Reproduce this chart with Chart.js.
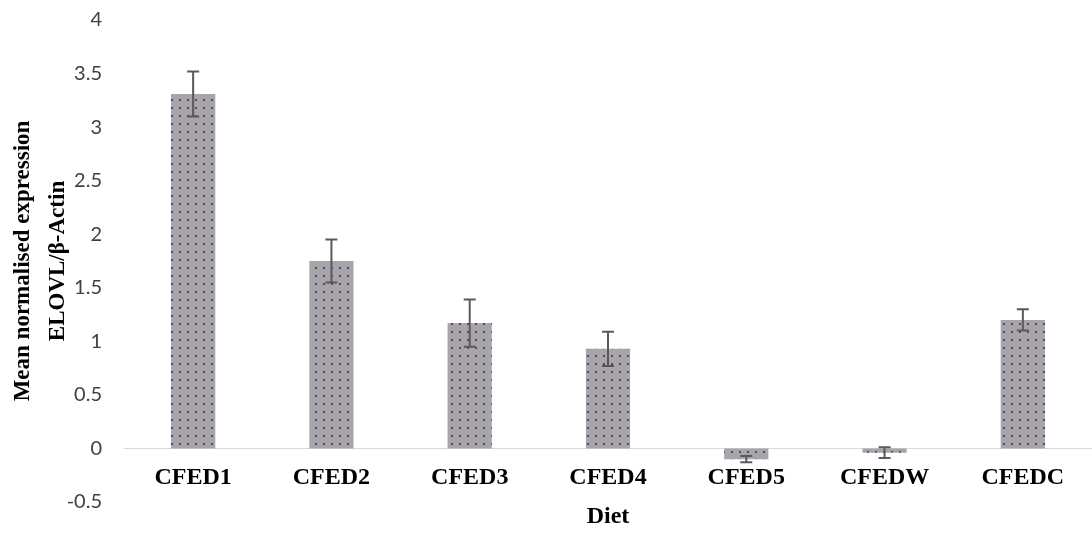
<!DOCTYPE html>
<html>
<head>
<meta charset="utf-8">
<script src="https://cdn.jsdelivr.net/npm/chart.js@4.4.1/dist/chart.umd.min.js"></script>
<style>
  body { margin: 0; background: #fff; }
  .chart { width: 1092px; height: 534px; }
</style>
</head>
<body>
<div class="chart"><canvas id="myChart"></canvas></div>
<script>
const diets = ['CFED1', 'CFED2', 'CFED3', 'CFED4', 'CFED5', 'CFEDW', 'CFEDC'];
const meanExpression = [3.31, 1.75, 1.17, 0.93, -0.10, -0.04, 1.20];
const errorValues = [0.21, 0.20, 0.22, 0.16, 0.03, 0.05, 0.10];
const yTicks = [-0.5, 0, 0.5, 1, 1.5, 2, 2.5, 3, 3.5, 4];

const serif = '"Liberation Serif", "Times New Roman", serif';

// grey bar with purple dots
const makeDots = () => {
    const tile = document.createElement('canvas');
    tile.width = 8;
    tile.height = 8;
    const c = tile.getContext('2d');
    c.fillStyle = '#a6a6a6';
    c.fillRect(0, 0, 8, 8);
    c.fillStyle = '#7030a0';
    c.fillRect(3, 3, 2, 2);
    return c.createPattern(tile, 'repeat');
}

const errorBars = {
    id: 'errorBars',
    afterDatasetsDraw: (chart) => {
        const ctx = chart.ctx;
        const xs = chart.scales.x;
        const ys = chart.scales.y;
        ctx.save();
        ctx.strokeStyle = '#595959';
        ctx.lineWidth = 2;
        for (let i = 0; i < diets.length; i++) {
            const x = xs.getPixelForValue(i);
            const top = ys.getPixelForValue(meanExpression[i] + errorValues[i]);
            const bot = ys.getPixelForValue(meanExpression[i] - errorValues[i]);
            ctx.beginPath();
            ctx.moveTo(x, top);
            ctx.lineTo(x, bot);
            ctx.moveTo(x - 6, top);
            ctx.lineTo(x + 6, top);
            ctx.moveTo(x - 6, bot);
            ctx.lineTo(x + 6, bot);
            ctx.stroke();
        }
        ctx.restore();
    }
};

const ctx = document.getElementById('myChart');
const chart = new Chart(ctx, {
    type: 'bar',
    data: {
        labels: diets,
        datasets: [{
            data: meanExpression,
            backgroundColor: makeDots(),
            borderWidth: 0,
            categoryPercentage: 1,
            barPercentage: 0.32
        }]
    },
    options: {
        responsive: true,
        maintainAspectRatio: false,
        animation: false,
        layout: { padding: 0 },
        plugins: {
            legend: { display: false },
            tooltip: { enabled: false }
        },
        scales: {
            x: {
                position: { y: 0 },
                afterFit: (scale) => { scale.height = 83; },
                grid: { display: false, drawTicks: false },
                border: { color: '#d9d9d9', width: 1 },
                ticks: {
                    color: '#000',
                    padding: 15,
                    font: { family: serif, size: 24, weight: 'bold' }
                },
                title: {
                    display: true,
                    text: 'Diet',
                    color: '#000',
                    padding: { top: 0, bottom: 0 },
                    font: { family: serif, size: 24, weight: 'bold' }
                }
            },
            y: {
                min: -0.5,
                max: 4,
                afterBuildTicks: (scale) => {
                    scale.ticks = yTicks.map(v => ({ value: v }));
                },
                afterFit: (scale) => {
                    // plot area: 4 sits at y=20, -0.5 at y=502
                    scale.width = 124;
                    scale.paddingTop = 20;
                    scale.paddingBottom = 32;
                },
                grid: { display: false, drawTicks: false },
                border: { display: false },
                ticks: {
                    color: '#404040',
                    padding: 22,
                    callback: (value) => `${value}`,
                    font: { family: 'Lato, "Open Sans", sans-serif', size: 20 }
                },
                title: {
                    display: true,
                    text: ['Mean normalised expression', 'ELOVL/\u03b2-Actin'],
                    color: '#000',
                    padding: { top: 6, bottom: 0 },
                    font: { family: serif, size: 23, weight: 'bold', lineHeight: 1.5 }
                }
            }
        }
    },
    plugins: [errorBars]
});
</script>
</body>
</html>
